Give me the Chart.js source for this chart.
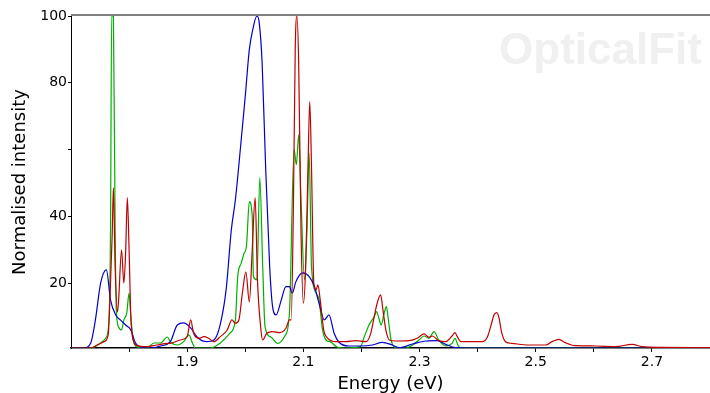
<!DOCTYPE html>
<html>
<head>
<meta charset="utf-8">
<script src="https://cdn.jsdelivr.net/npm/chart.js@4.4.1/dist/chart.umd.min.js"></script>
<style>
    html, body { margin: 0; padding: 0; background: #fff; }
    #wrap { width: 710px; height: 393px; }
</style>
</head>
<body>
<div id="wrap"><canvas id="myChart" width="710" height="393"></canvas></div>
<script>
// spectra: [energy (eV), normalised intensity]
const bluePoints = [
    [1.700, 0.6], [1.722, 0.6], [1.734, 2.1], [1.742, 9], [1.751, 20], [1.761, 24], [1.768, 15],
    [1.777, 10.5], [1.785, 9], [1.794, 7.5], [1.803, 6], [1.811, 2.1], [1.820, 0.9], [1.837, 0.6],
    [1.854, 1.2], [1.871, 2.5], [1.883, 7.5], [1.894, 8.1], [1.906, 6.6], [1.917, 3.9], [1.934, 2.5],
    [1.946, 3.0], [1.956, 7], [1.967, 18], [1.976, 36], [1.983, 45], [1.992, 61], [2.000, 76],
    [2.007, 90], [2.013, 96], [2.020, 100], [2.024, 98], [2.029, 86], [2.035, 55], [2.042, 25],
    [2.047, 13], [2.053, 10.5], [2.062, 15], [2.070, 19], [2.076, 19], [2.081, 17], [2.087, 20.4],
    [2.099, 23.1], [2.110, 22], [2.119, 19], [2.127, 14], [2.136, 9], [2.144, 10.5], [2.153, 5],
    [2.161, 2.4], [2.178, 1.2], [2.198, 1.2], [2.219, 1.5], [2.236, 2.3], [2.253, 1.5], [2.265, 0.7],
    [2.288, 1.8], [2.311, 2.7], [2.331, 2.8], [2.345, 1.7], [2.362, 0.7], [2.380, 0.6], [2.800, 0.6]
];

const greenPoints = [
    [1.700, 0.6], [1.734, 0.6], [1.751, 2.1], [1.760, 3.6], [1.765, 8.1], [1.768, 35], [1.770, 100],
    [1.773, 100], [1.776, 35], [1.778, 12], [1.782, 6.9], [1.787, 6], [1.791, 9], [1.796, 11.1],
    [1.800, 17], [1.803, 10], [1.807, 3], [1.814, 0.9], [1.831, 0.6], [1.843, 2.1], [1.854, 2.1],
    [1.866, 3.9], [1.871, 2.5], [1.883, 1.5], [1.894, 2.5], [1.903, 4.5], [1.909, 2.1], [1.914, 0.6],
    [1.940, 0.6], [1.957, 2.1], [1.974, 5.1], [1.983, 9], [1.987, 22], [1.993, 26], [1.998, 29],
    [2.002, 31], [2.007, 44.4], [2.012, 40], [2.014, 22], [2.020, 21], [2.025, 51.6], [2.030, 25],
    [2.034, 7], [2.044, 3.9], [2.056, 2], [2.067, 3.9], [2.076, 11], [2.084, 60], [2.088, 55.5],
    [2.092, 64.5], [2.096, 45], [2.102, 21], [2.106, 35], [2.110, 59], [2.114, 25], [2.122, 17],
    [2.127, 15], [2.133, 6], [2.139, 3], [2.146, 2.5], [2.158, 0.9], [2.175, 0.6], [2.198, 1.0],
    [2.205, 4], [2.213, 7.5], [2.222, 10], [2.226, 11.5], [2.230, 9.5], [2.234, 7.5], [2.239, 11],
    [2.243, 13], [2.246, 9.5], [2.251, 3], [2.259, 0.7], [2.276, 0.6], [2.288, 1.5], [2.299, 3],
    [2.308, 4.2], [2.316, 3.5], [2.325, 5.5], [2.333, 3], [2.345, 1.2], [2.356, 2], [2.361, 3.5],
    [2.366, 1.5], [2.371, 0.6], [2.800, 0.6]
];

const redPoints = [
    [1.700, 0.6], [1.734, 0.6], [1.745, 1.5], [1.757, 2.5], [1.764, 4.5], [1.767, 15], [1.771, 35],
    [1.773, 48.6], [1.776, 25], [1.780, 11.4], [1.782, 15], [1.787, 30], [1.791, 20], [1.794, 29],
    [1.797, 45.6], [1.800, 30], [1.803, 10], [1.807, 3], [1.814, 1.3], [1.831, 1.0], [1.848, 1.5],
    [1.866, 2.0], [1.871, 2.0], [1.888, 3.0], [1.900, 4.0], [1.906, 9], [1.911, 5], [1.920, 3.5],
    [1.929, 4.0], [1.937, 3.5], [1.946, 2.5], [1.957, 4.0], [1.969, 6], [1.977, 9], [1.983, 8],
    [1.989, 9], [1.995, 17], [2.001, 23.4], [2.007, 14.4], [2.012, 30], [2.017, 45.6], [2.021, 21],
    [2.027, 6], [2.030, 3], [2.037, 5], [2.047, 5.5], [2.059, 5.2], [2.070, 6.5], [2.076, 9],
    [2.079, 9], [2.083, 45], [2.086, 90], [2.089, 100], [2.092, 85], [2.096, 35], [2.100, 14],
    [2.104, 25], [2.108, 55], [2.111, 74.4], [2.114, 55], [2.118, 20], [2.122, 18], [2.125, 19.5],
    [2.129, 15], [2.135, 6], [2.142, 3.5], [2.156, 2.5], [2.173, 2.5], [2.190, 2.8], [2.208, 2.5],
    [2.216, 5], [2.222, 10], [2.227, 14], [2.233, 16.5], [2.237, 12], [2.242, 6], [2.248, 3],
    [2.259, 2.7], [2.282, 2.8], [2.296, 3.5], [2.308, 4.8], [2.316, 3.8], [2.322, 4.2], [2.333, 2.8],
    [2.345, 2.5], [2.356, 4.2], [2.361, 5.2], [2.365, 4], [2.371, 2.5], [2.391, 2.5], [2.408, 2.5],
    [2.417, 4], [2.424, 8], [2.428, 10.5], [2.433, 11.2], [2.437, 9.5], [2.441, 5.5], [2.448, 2.5],
    [2.459, 2], [2.488, 1.5], [2.517, 1.5], [2.528, 2.5], [2.540, 3.2], [2.551, 2.2], [2.568, 1.3],
    [2.603, 1.2], [2.637, 1.0], [2.666, 1.7], [2.683, 1.0], [2.717, 0.8], [2.800, 0.7]
];

const xTicks = [1.8, 1.9, 2.0, 2.1, 2.2, 2.3, 2.4, 2.5, 2.6, 2.7];
const xLabels = [1.9, 2.1, 2.3, 2.5, 2.7];
const yTicks = [20, 40, 60, 80, 100];
const yLabels = [20, 40, 80, 100];

const FONT = "'DejaVu Sans', Verdana, sans-serif";

function toXY(points) {
    return points.map(p => ({ x: p[0], y: p[1] }));
}

function hasValue(list, v) {
    return list.some(t => Math.abs(t - v) < 1e-6);
}

// watermark behind the curves, grey frame line on top
const decorations = {
    id: 'decorations',
    beforeDatasetsDraw(chart) {
        const { ctx, chartArea } = chart;
        ctx.save();
        ctx.font = "bold 44px 'Liberation Sans', Arial, sans-serif";
        ctx.fillStyle = '#f0f0f0';
        ctx.textAlign = 'right';
        ctx.textBaseline = 'alphabetic';
        ctx.fillText('OpticalFit', chartArea.right - 8, 64);
        ctx.restore();
    },
    afterDraw(chart) {
        const { ctx, chartArea } = chart;
        ctx.save();
        ctx.strokeStyle = '#808080';
        ctx.lineWidth = 2;
        ctx.beginPath();
        ctx.moveTo(chartArea.left, chartArea.top - 1);
        ctx.lineTo(chartArea.right, chartArea.top - 1);
        ctx.stroke();
        ctx.restore();
    }
};

const ctx = document.getElementById('myChart').getContext('2d');

new Chart(ctx, {
    type: 'line',
    data: {
        datasets: [
            { data: toXY(redPoints), borderColor: '#c00000' },
            { data: toXY(bluePoints), borderColor: '#0000cc' },
            { data: toXY(greenPoints), borderColor: '#00b000' }
        ]
    },
    options: {
        responsive: false,
        animation: false,
        devicePixelRatio: 1,
        layout: { padding: { top: 16, right: 0, bottom: 0, left: 0 } },
        elements: {
            point: { radius: 0 },
            line: { borderWidth: 1.2, cubicInterpolationMode: 'monotone', fill: false }
        },
        plugins: {
            legend: { display: false },
            tooltip: { enabled: false }
        },
        scales: {
            x: {
                type: 'linear',
                min: 1.70,
                max: 2.80,
                afterBuildTicks: scale => { scale.ticks = xTicks.map(v => ({ value: v })); },
                afterFit: scale => { scale.height = 45; },
                ticks: {
                    autoSkip: false,
                    maxRotation: 0,
                    padding: 2,
                    color: '#000',
                    font: { family: FONT, size: 14 },
                    callback: v => hasValue(xLabels, v) ? v.toFixed(1) : ''
                },
                grid: { drawOnChartArea: false, tickLength: 4, color: '#000' },
                border: { color: '#000', width: 1.5 },
                title: {
                    display: true,
                    text: 'Energy (eV)',
                    color: '#000',
                    padding: 0,
                    font: { family: FONT, size: 18, lineHeight: 1 }
                }
            },
            y: {
                min: 0.6,
                max: 100,
                afterBuildTicks: scale => { scale.ticks = yTicks.map(v => ({ value: v })); },
                afterFit: scale => { scale.width = 71; },
                ticks: {
                    padding: 1,
                    color: '#000',
                    font: { family: FONT, size: 14 },
                    callback: v => hasValue(yLabels, v) ? String(v) : ''
                },
                grid: { drawOnChartArea: false, tickLength: 3, color: '#000' },
                border: { color: '#000', width: 1 },
                title: {
                    display: true,
                    text: 'Normalised intensity',
                    color: '#000',
                    padding: { top: 10, bottom: 0 },
                    font: { family: FONT, size: 18, lineHeight: 1.2 }
                }
            }
        }
    },
    plugins: [decorations]
});
</script>
</body>
</html>
